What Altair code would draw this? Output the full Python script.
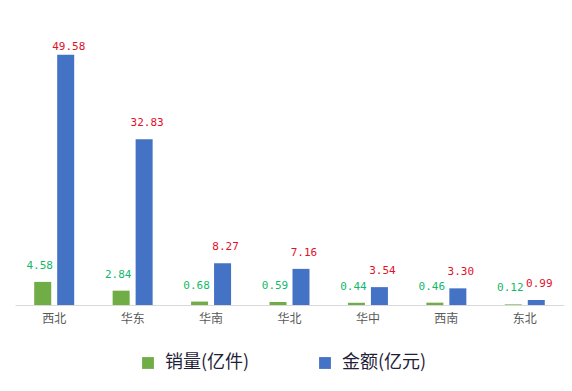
import altair as alt
import pandas as pd

regions = ["西北", "华东", "华南", "华北", "华中", "西南", "东北"]
sales = [4.58, 2.84, 0.68, 0.59, 0.44, 0.46, 0.12]
amount = [49.58, 32.83, 8.27, 7.16, 3.54, 3.30, 0.99]
series = ["销量(亿件)", "金额(亿元)"]

rows = []
for r, s, a in zip(regions, sales, amount):
    rows.append({"region": r, "series": series[0], "value": s})
    rows.append({"region": r, "series": series[1], "value": a})
df = pd.DataFrame(rows)

x = alt.X("region:N", sort=regions, title=None,
          scale=alt.Scale(paddingInner=0.49, paddingOuter=0.245),
          axis=alt.Axis(labelAngle=0, ticks=False, domainColor="#D9D9D9",
                        labelColor="#595959", labelFontSize=12,
                        labelFont="Noto Sans CJK SC", labelPadding=8))
xoff = alt.XOffset("series:N", sort=series,
                   scale=alt.Scale(domain=series, paddingInner=0.26, paddingOuter=0))
yscale = alt.Scale(domain=[0, 54.5], nice=False)
y = alt.Y("value:Q", scale=yscale, axis=None)

bars = alt.Chart(df).mark_bar().encode(
    x=x, xOffset=xoff, y=y,
    color=alt.Color("series:N", sort=series,
                    scale=alt.Scale(domain=series, range=["#70AD47", "#4472C4"]),
                    legend=alt.Legend(title=None, orient="none", legendX=124, legendY=324,
                                      direction="horizontal", symbolType="square",
                                      symbolSize=140, symbolStrokeWidth=0,
                                      labelFontSize=18, labelFont="Noto Sans CJK SC",
                                      labelColor="#1F1F3A", columnPadding=66,
                                      labelOffset=8)),
)


def label_layer(name, color, dx):
    return alt.Chart(df).transform_filter(
        alt.datum.series == name
    ).transform_calculate(
        ly="min(datum.value, 48.0)"
    ).mark_text(baseline="middle", dy=-16, dx=dx, fontSize=11,
                font="DejaVu Sans Mono", color=color).encode(
        x=x, xOffset=xoff,
        y=alt.Y("ly:Q", scale=yscale, axis=None),
        text=alt.Text("value:Q", format=".2f"),
    )


labels_sales = label_layer(series[0], "#12B86A", -3)
labels_amount = label_layer(series[1], "#E3102A", 3)

chart = alt.layer(bars, labels_sales, labels_amount).properties(
    width=549, height=275,
    autosize=alt.AutoSizeParams(type="none"),
    padding={"left": 7, "top": 22, "right": 0, "bottom": 78},
).configure_view(stroke=None)

chart.save("out.html", embed_options={"renderer": "svg", "actions": False})
